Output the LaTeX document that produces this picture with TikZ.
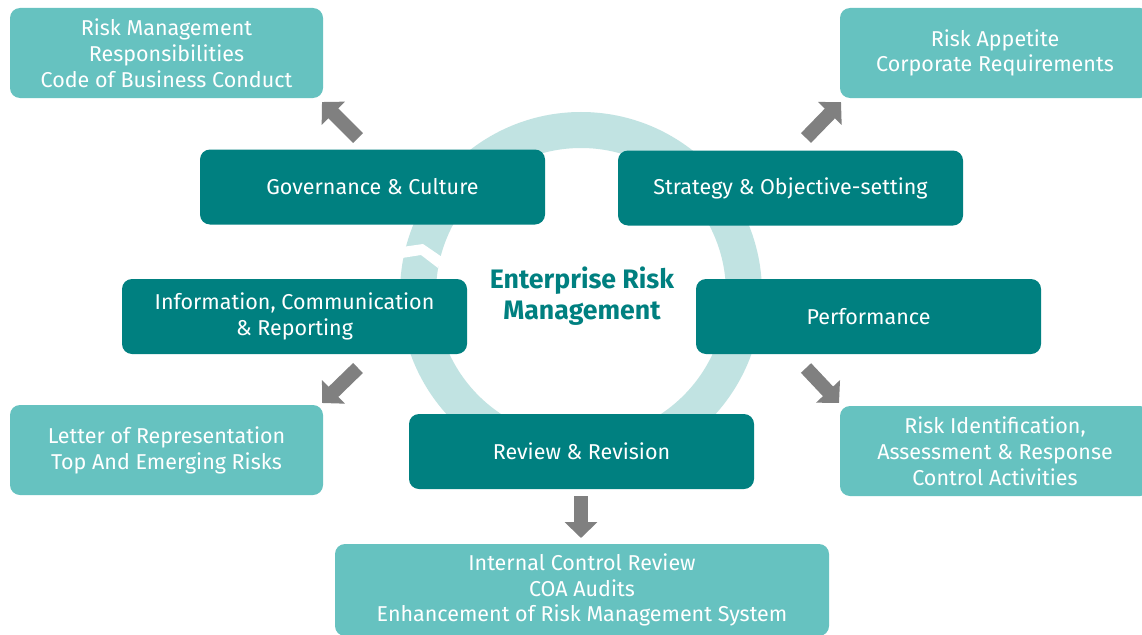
\documentclass[tikz,border=0pt]{standalone}
\usepackage{fontspec}
\setmainfont{Fira Sans}
\usetikzlibrary{arrows.meta}
\definecolor{darkteal}{RGB}{0,128,128}
\definecolor{lightteal}{RGB}{102,194,192}
\definecolor{ringcol}{RGB}{193,227,226}
\definecolor{arrcol}{RGB}{128,128,128}
\begin{document}
\begin{tikzpicture}[x=1pt,y=-1pt,
  darkbox/.style={fill=darkteal, rounded corners=10pt, text=white, minimum width=345pt, minimum height=75pt, font=\fontsize{21.5}{25.8}\selectfont, align=center, inner sep=0pt},
  lightbox/.style={fill=lightteal, rounded corners=10pt, text=white, minimum height=90pt, font=\fontsize{21.5}{25.8}\selectfont, align=center, inner sep=0pt},
  blockarrow/.style={draw=arrcol, line width=14pt, -{Triangle[length=16pt,width=32pt]}},
  title/.style={text=darkteal, font=\fontsize{26.7}{31.5}\selectfont\bfseries, align=center}]
\useasboundingbox (0,0) rectangle (1142,634);
\fill[white] (0,0) rectangle (1142,634);
% ring
\draw[ringcol, line width=36pt] (581,293) circle[radius=163pt];
\fill[white] (402,247) -- (423,244) -- (442,257) -- (438,268) -- (421,255) -- (402,258) -- cycle;
% center title
\node[title] (erm) at (582,296) {Enterprise Risk\\Management};
% dark boxes
\node[darkbox] (gov) at (372.5,187) {Governance \& Culture};
\node[darkbox] (str) at (790.5,188) {Strategy \& Objective-setting};
\node[darkbox] (inf) at (294.5,316.5) {Information, Communication\\\& Reporting};
\node[darkbox] (per) at (868.5,316.5) {Performance};
\node[darkbox] (rev) at (581.5,451.5) {Review \& Revision};
% light boxes
\node[lightbox, minimum width=313pt] (rm) at (166.5,53) {Risk Management\\Responsibilities\\Code of Business Conduct};
\node[lightbox, minimum width=310pt] (ra) at (995,53) {Risk Appetite\\Corporate Requirements};
\node[lightbox, minimum width=313pt] (lr) at (166.5,450) {Letter of Representation\\Top And Emerging Risks};
\node[lightbox, minimum width=310pt] (ri) at (995,451) {Risk Identification,\\Assessment \& Response\\Control Activities};
\node[lightbox, minimum width=494pt, minimum height=92pt] (ic) at (582,590) {Internal Control Review\\COA Audits\\Enhancement of Risk Management System};
% arrows
\coordinate (a1s) at (358,138); \coordinate (a1e) at (322,102);
\coordinate (a2s) at (806,138); \coordinate (a2e) at (841,102);
\coordinate (a3s) at (358,368); \coordinate (a3e) at (322,403);
\coordinate (a4s) at (806,368); \coordinate (a4e) at (839,403);
\coordinate (a5s) at (581,496); \coordinate (a5e) at (581,538);
\draw[blockarrow] (a1s) -- (a1e);
\draw[blockarrow] (a2s) -- (a2e);
\draw[blockarrow] (a3s) -- (a3e);
\draw[blockarrow] (a4s) -- (a4e);
\draw[blockarrow] (a5s) -- (a5e);
\end{tikzpicture}
\end{document}
